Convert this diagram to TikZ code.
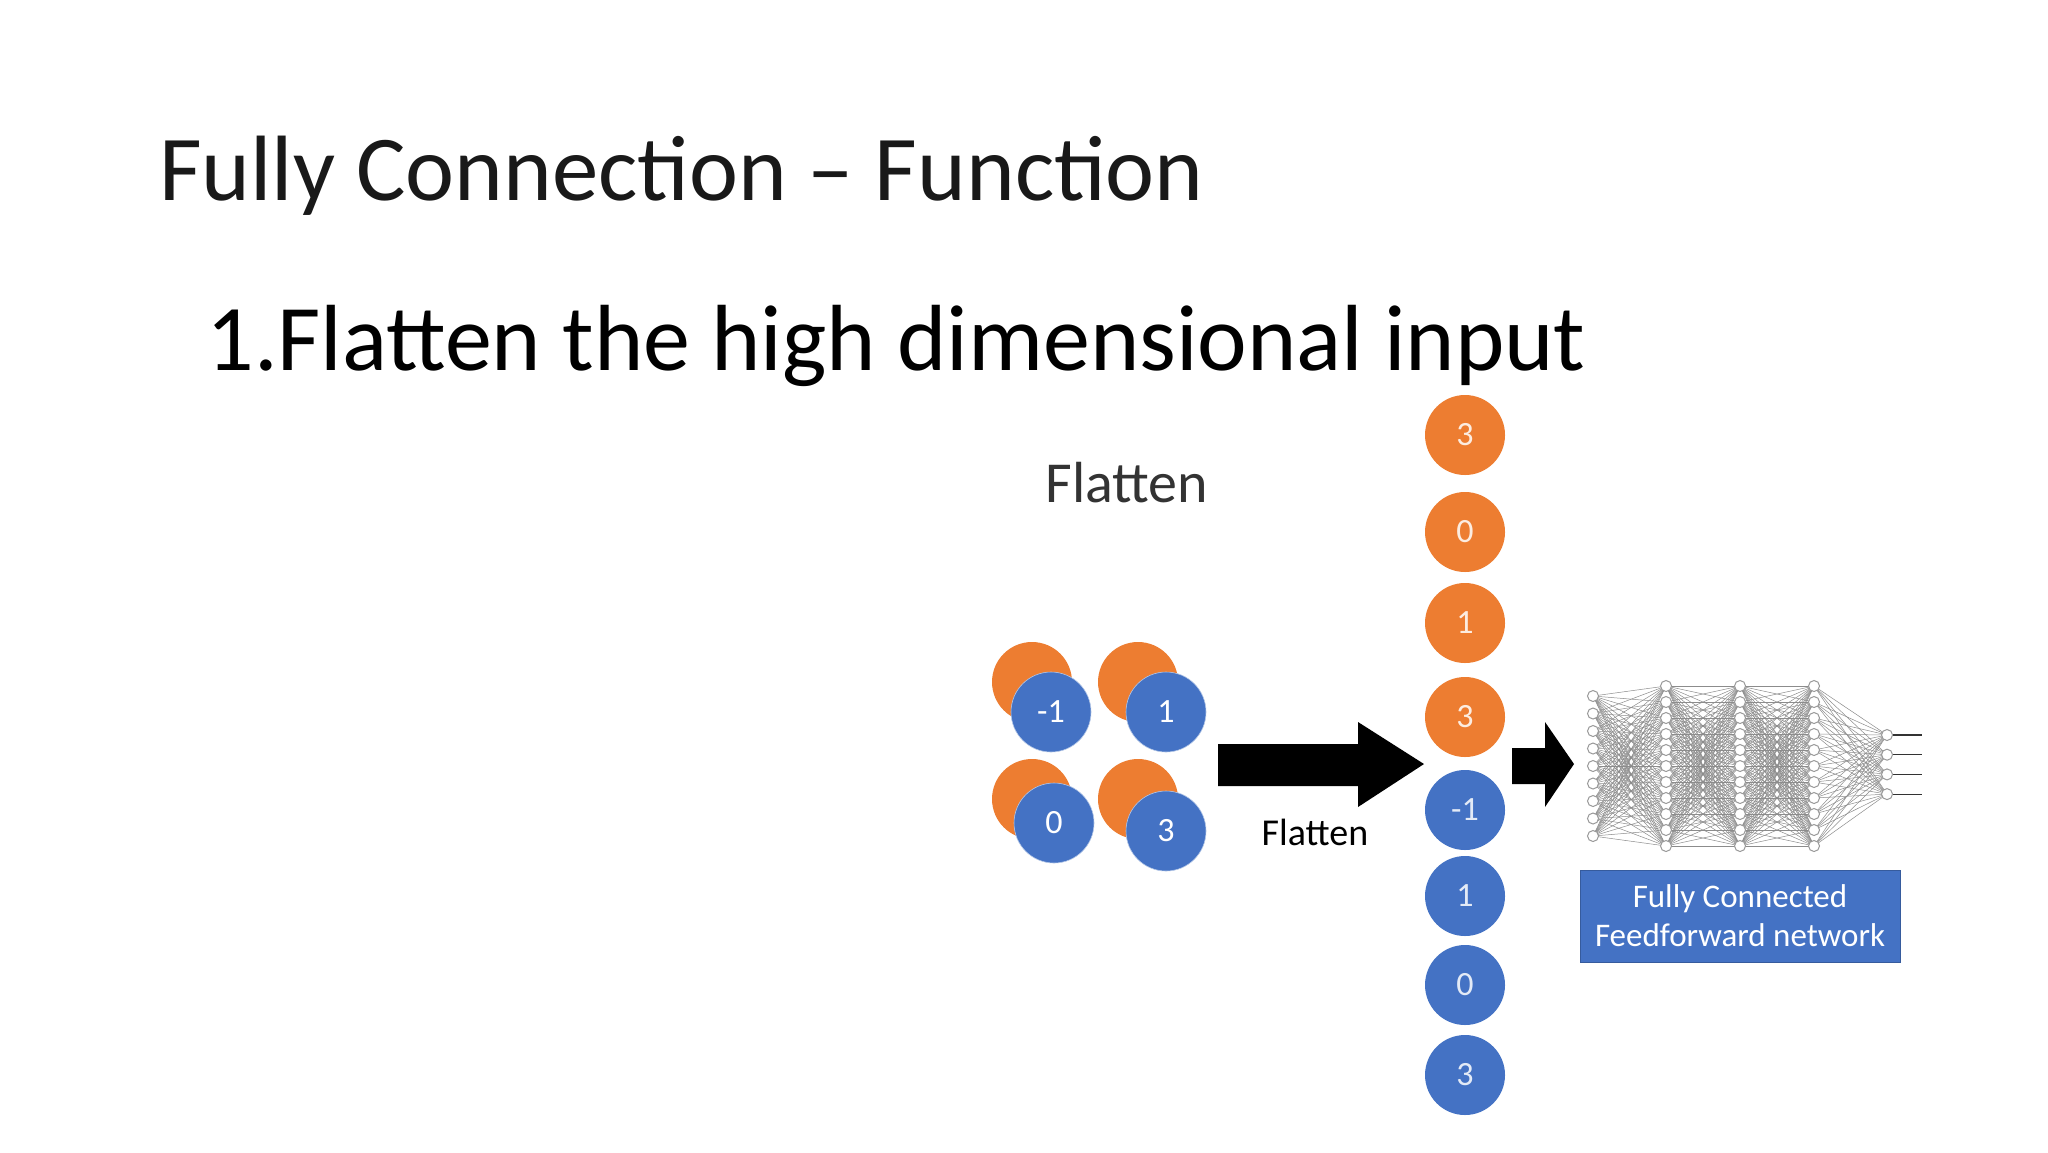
\documentclass[tikz,border=0pt]{standalone}
\usepackage{fontspec}
\setmainfont{Carlito}
\begin{document}
\begin{tikzpicture}[x=0.5pt,y=-0.5pt,
  blu/.style={circle,fill=blue1,minimum size=40pt,inner sep=0,text=white,font=\fontsize{17}{17}\selectfont},
  nn/.style={circle,draw=gray!80,fill=white,line width=0.5pt,minimum size=5.5pt,inner sep=0},
  ed/.style={gray!90,line width=0.25pt}]
\definecolor{orange1}{HTML}{ED7D31}
\definecolor{blue1}{HTML}{4472C4}
\useasboundingbox (0,0) rectangle (2048,1152);
\fill[white] (0,0) rectangle (2048,1152);
\node[anchor=base west,inner sep=0,font=\fontsize{46.4}{50}\selectfont,text=black!90] (title) at (159,200) {Fully Connection – Function};
\node[anchor=base west,inner sep=0,font=\fontsize{47}{48}\selectfont] (sub) at (206,370) {1.Flatten the high dimensional input};
\node[font=\fontsize{29}{29}\selectfont,text=black!80] (fh) at (1127,483) {Flatten};
% 2x2 grid
\foreach \i/\ox/\oy/\bx/\by/\v in {a/1032/682/1051/712/-1, b/1138/682/1166/712/1, c/1032/799/1054/823/0, d/1138/799/1166/831/3}{
  \node[blu,fill=orange1] (o\i) at (\ox,\oy) {};
  \node[blu,draw=white!60!blue1,line width=0.3pt] (b\i) at (\bx,\by) {\v};
}
% big arrow
\fill (1218,744) -- (1358,744) -- (1358,722) -- (1424,764) -- (1358,807) -- (1358,786) -- (1218,786) -- cycle;
\node[font=\fontsize{19}{19}\selectfont] (fl) at (1315,832) {Flatten};
% column
\foreach \y/\v/\c [count=\k] in {435/3/orange1,532/0/orange1,623/1/orange1,717/3/orange1,810/-1/blue1,896/1/blue1,985/0/blue1,1075/3/blue1}{
  \node[blu,fill=\c,text=white!85!\c] (c\k) at (1465,\y) {\v};
}
% small arrow
\fill (1512,748) -- (1545,748) -- (1545,722) -- (1574,764) -- (1545,807) -- (1545,784) -- (1512,784) -- cycle;
% network
\foreach \j in {1,...,9}{\coordinate (L1-\j) at (1593,{696+(\j-1)*17.5});}
\foreach \l/\x in {2/1666,3/1740,4/1814}{\foreach \j in {1,...,11}{\coordinate (L\l-\j) at (\x,{686+(\j-1)*16});}}
\foreach \j in {1,...,4}{\coordinate (L5-\j) at (1887,{735+(\j-1)*19.7});}
\foreach \a in {1,...,9}{\foreach \b in {1,...,11}{\draw[ed] (L1-\a) -- (L2-\b);}}
\foreach \a in {1,...,11}{\foreach \b in {1,...,11}{\draw[ed] (L2-\a) -- (L3-\b); \draw[ed] (L3-\a) -- (L4-\b);}}
\foreach \a in {1,...,11}{\foreach \b in {1,...,4}{\draw[ed] (L4-\a) -- (L5-\b);}}
\foreach \j in {1,...,4}{\coordinate (out\j) at (1922,{735+(\j-1)*19.7}); \draw[gray!40!black,line width=0.6pt] (L5-\j) -- (out\j);}
\foreach \j in {1,...,9}{\node[nn] (n1-\j) at (L1-\j) {};}
\foreach \l in {2,3,4}{\foreach \j in {1,...,11}{\node[nn] (n\l-\j) at (L\l-\j) {};}}
\foreach \j in {1,...,4}{\node[nn] (n5-\j) at (L5-\j) {};}
\node[fill=blue1,draw=blue1!80!black,line width=0.4pt,minimum width=160pt,minimum height=46pt,inner sep=0,text=white,align=center,font=\fontsize{16.5}{19.5}\selectfont] (box) at (1740,916) {Fully Connected\\Feedforward network};
\end{tikzpicture}
\end{document}
